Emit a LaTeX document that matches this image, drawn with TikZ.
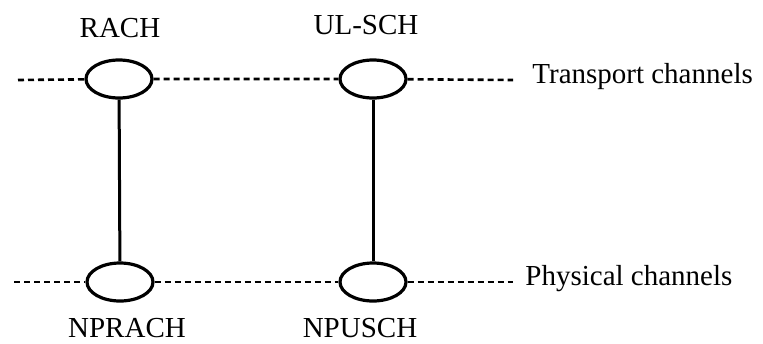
\documentclass[tikz,border=0pt]{standalone}
\usepackage{fontspec}
\setmainfont{Liberation Serif}
\usetikzlibrary{positioning,shapes.geometric}
\tikzset{
  chan/.style={ellipse,draw,line width=1.6pt,minimum width=33pt,minimum height=19pt,inner sep=0pt},
  dashline/.style={line width=1.3pt,dash pattern=on 3pt off 2pt},
  mapline/.style={line width=1.5pt},
  chname/.style={font=\fontsize{14.5}{17}\selectfont,inner sep=0pt,anchor=base}
}
\begin{document}
\begin{tikzpicture}[x=0.5pt,y=-0.5pt]
 		\useasboundingbox (0,0) rectangle (763,343);
 		% channel ellipses
 		\node[chan] (rach) at (119,79) {};
 		\node[chan] (ulsch) at (373,79) {};
 		\node[chan] (nprach) at (120,282) {};
 		\node[chan] (npusch) at (373,282) {};
 		% free ends of the dashed levels
 		\coordinate (tl) at (18,80);
 		\coordinate (tr) at (513,80);
 		\coordinate (bl) at (14,282);
 		\coordinate (br) at (513,282);
 		\draw[dashline] (tl) -- (rach) -- (ulsch) -- (tr);
 		\draw[dashline] (bl) -- (nprach) -- (npusch) -- (br);
 		\draw[mapline] (rach) -- (nprach);
 		\draw[mapline] (ulsch) -- (npusch);
 		% labels
 		\node[chname] (lrach) at (120,37) {RACH};
 		\node[chname] (lulsch) at (366,34) {UL-SCH};
 		\node[chname] (lnprach) at (127,337) {NPRACH};
 		\node[chname] (lnpusch) at (360,337) {NPUSCH};
 		\node[chname,anchor=base west] (ltrans) at (532,83) {Transport channels};
 		\node[chname,anchor=base west] (lphys) at (525,285) {Physical channels};
 	\end{tikzpicture}
\end{document}
